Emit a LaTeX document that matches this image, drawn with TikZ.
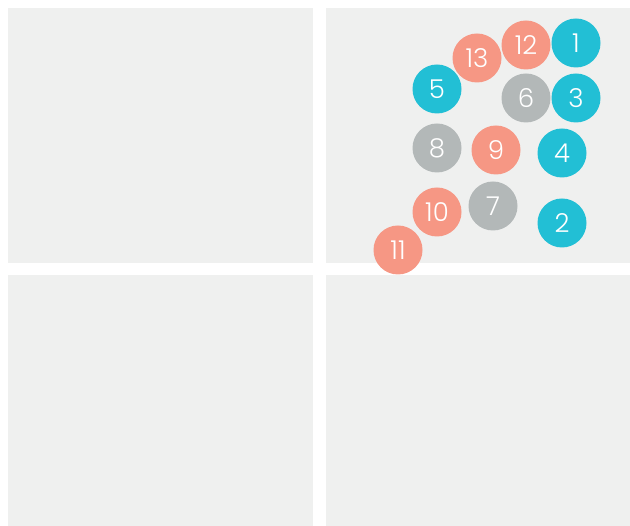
\documentclass[tikz,border=0pt]{standalone}
\usepackage{fontspec}
\setmainfont{Poppins}[UprightFont=* Light]
\definecolor{panel}{HTML}{EFF0EF}
\definecolor{cyanc}{HTML}{22BFD5}
\definecolor{salmon}{HTML}{F69784}
\definecolor{grayc}{HTML}{B3B8B8}
\tikzset{
  panelbox/.style={fill=panel, draw=none},
  dot/.style={circle, minimum size=49pt, inner sep=0pt, text=white, font=\fontsize{26}{26}\selectfont},
  dcyan/.style={dot, fill=cyanc},
  dsalmon/.style={dot, fill=salmon},
  dgray/.style={dot, fill=grayc}
}
\begin{document}
\begin{tikzpicture}[x=1pt,y=-1pt]
\useasboundingbox[fill=white] (0,0) rectangle (630,526);
\fill[panelbox] (8,8) rectangle (313,263);
\fill[panelbox] (326,8) rectangle (630,263);
\fill[panelbox] (8,275) rectangle (313,526);
\fill[panelbox] (326,275) rectangle (630,526);
\node[dcyan] (n1) at (576,43) {1};
\node[dsalmon] (n12) at (526,45) {12};
\node[dsalmon] (n13) at (477,58) {13};
\node[dcyan] (n5) at (437,89) {5};
\node[dgray] (n6) at (526,98) {6};
\node[dcyan] (n3) at (576,98) {3};
\node[dgray] (n8) at (437,148) {8};
\node[dsalmon] (n9) at (496,150) {9};
\node[dcyan] (n4) at (562,153) {4};
\node[dsalmon] (n10) at (437,212) {10};
\node[dgray] (n7) at (493,206) {7};
\node[dcyan] (n2) at (562,223) {2};
\node[dsalmon] (n11) at (398,250) {11};
\end{tikzpicture}
\end{document}
